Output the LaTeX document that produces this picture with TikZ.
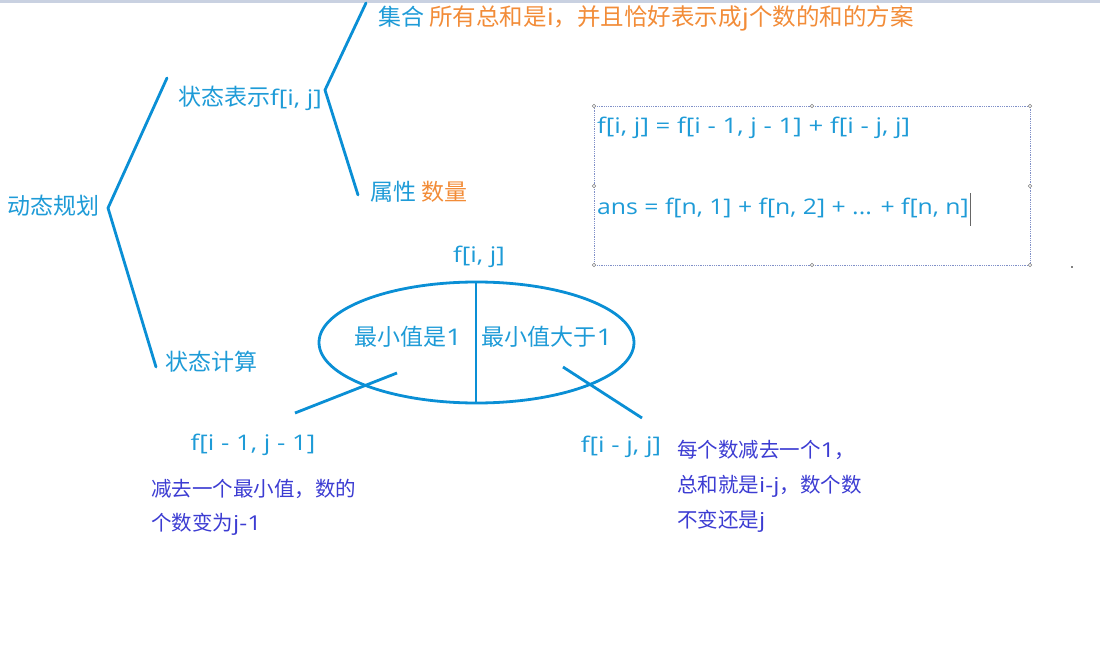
\documentclass[tikz,border=0pt]{standalone}
\usepackage{fontspec}
\setmainfont{Noto Sans CJK SC}
\newfontfamily\lat{Open Sans}[FakeStretch=1.2]
\definecolor{tblue}{HTML}{1E9BD7}
\definecolor{lblue}{HTML}{0A8FD5}
\definecolor{torange}{HTML}{F28C38}
\definecolor{tpurple}{HTML}{3C3CD2}
\definecolor{topbar}{HTML}{C9D1E1}
\definecolor{dotc}{HTML}{8090C8}
\begin{document}
\begin{tikzpicture}[x=1pt,y=-1pt,
  lbl/.style={anchor=west,inner sep=0pt,text=tblue,font=\fontsize{23}{23}\selectfont},
  fml/.style={anchor=west,inner sep=0pt,text=tblue,font=\lat\fontsize{21.5}{21.5}\selectfont},
  note/.style={anchor=north west,inner sep=0pt,text=tpurple,font=\fontsize{20.5}{34}\selectfont,align=left},
  brk/.style={draw=lblue,line width=2.8pt,line join=miter,line cap=round},
  handle/.style={draw=gray,fill=white,line width=0.6pt}]
\useasboundingbox (0,0) rectangle (1100,652);
\fill[topbar] (0,0) rectangle (1100,3);

% tree labels
\node[lbl] (dp) at (7,206) {动态规划};
\node[lbl] (zt) at (178,98) {状态表示{\lat\fontsize{21.5}{21.5}\selectfont f[i, j]}};
\node[lbl] (js) at (165,362) {状态计算};
\node[lbl] (jh) at (378,18) {集合 \textcolor{torange}{\fontsize{23.5}{23.5}\selectfont 所有总和是{\lat i}，并且恰好表示成{\lat j}个数的和的方案}};
\node[lbl] (sx) at (370,192) {属性 \textcolor{torange}{数量}};

% bracket coordinates
\coordinate (v1) at (108,208);
\coordinate (a1) at (167,78);
\coordinate (b1) at (156,367);
\coordinate (v2) at (325,90);
\coordinate (a2) at (366,3);
\coordinate (b2) at (358,195);
\draw[brk] (a1) -- (v1) -- (b1);
\draw[brk] (a2) -- (v2) -- (b2);

% formula box
\draw[dotc,densely dotted,line width=0.8pt] (594,106) rectangle (1030,265);
\foreach \p in {(594,106),(812,106),(1030,106),(594,186),(1030,186),(594,265),(812,265),(1030,265)}
  \draw[handle] \p circle (1.8);
\node[fml] (eq1) at (597,128) {f[i, j] = f[i - 1, j - 1] + f[i - j, j]};
\node[fml] (eq2) at (597,208) {\scalebox{0.96}[1]{ans = f[n, 1] + f[n, 2] + ... + f[n, n]}};
\coordinate (cur) at ([xshift=2pt]eq2.east);
\draw[gray!80!black,line width=1pt] (cur) ++(0,-15) -- ++(0,33);
\fill[black] (1072,267) circle (0.9);

% ellipse
\node[fml,anchor=center] (fij) at (479,257) {f[i, j]};
\draw[lblue,line width=2.8pt] (476.5,342.5) ellipse [x radius=157.5, y radius=60.5];
\coordinate (et) at (476,282);
\coordinate (eb) at (476,403);
\draw[lblue,line width=2.8pt] (et) -- (eb);
\node[lbl,anchor=center] (m1) at (408,337) {最小值是{\lat 1}};
\node[lbl,anchor=center] (m2) at (547,337) {最小值大于{\lat 1}};

% branches
\coordinate (l1) at (397,373);
\coordinate (l2) at (295,413);
\coordinate (r1) at (563,367);
\coordinate (r2) at (642,418);
\draw[lblue,line width=2.8pt] (l1) -- (l2);
\draw[lblue,line width=2.8pt] (r1) -- (r2);

\node[fml,anchor=center] (fa) at (253,445) {f[i - 1, j - 1]};
\node[fml,anchor=center] (fb) at (621,447) {f[i - j, j]};

\node[note] (n1) at (151,479) {减去一个最小值，数的\\个数变为{\lat j-1}};
\node[note,font=\fontsize{20.5}{35}\selectfont] (n2) at (677,440) {每个数减去一个{\lat 1}，\\总和就是{\lat i-j}，数个数\\不变还是{\lat j}};
\end{tikzpicture}
\end{document}
